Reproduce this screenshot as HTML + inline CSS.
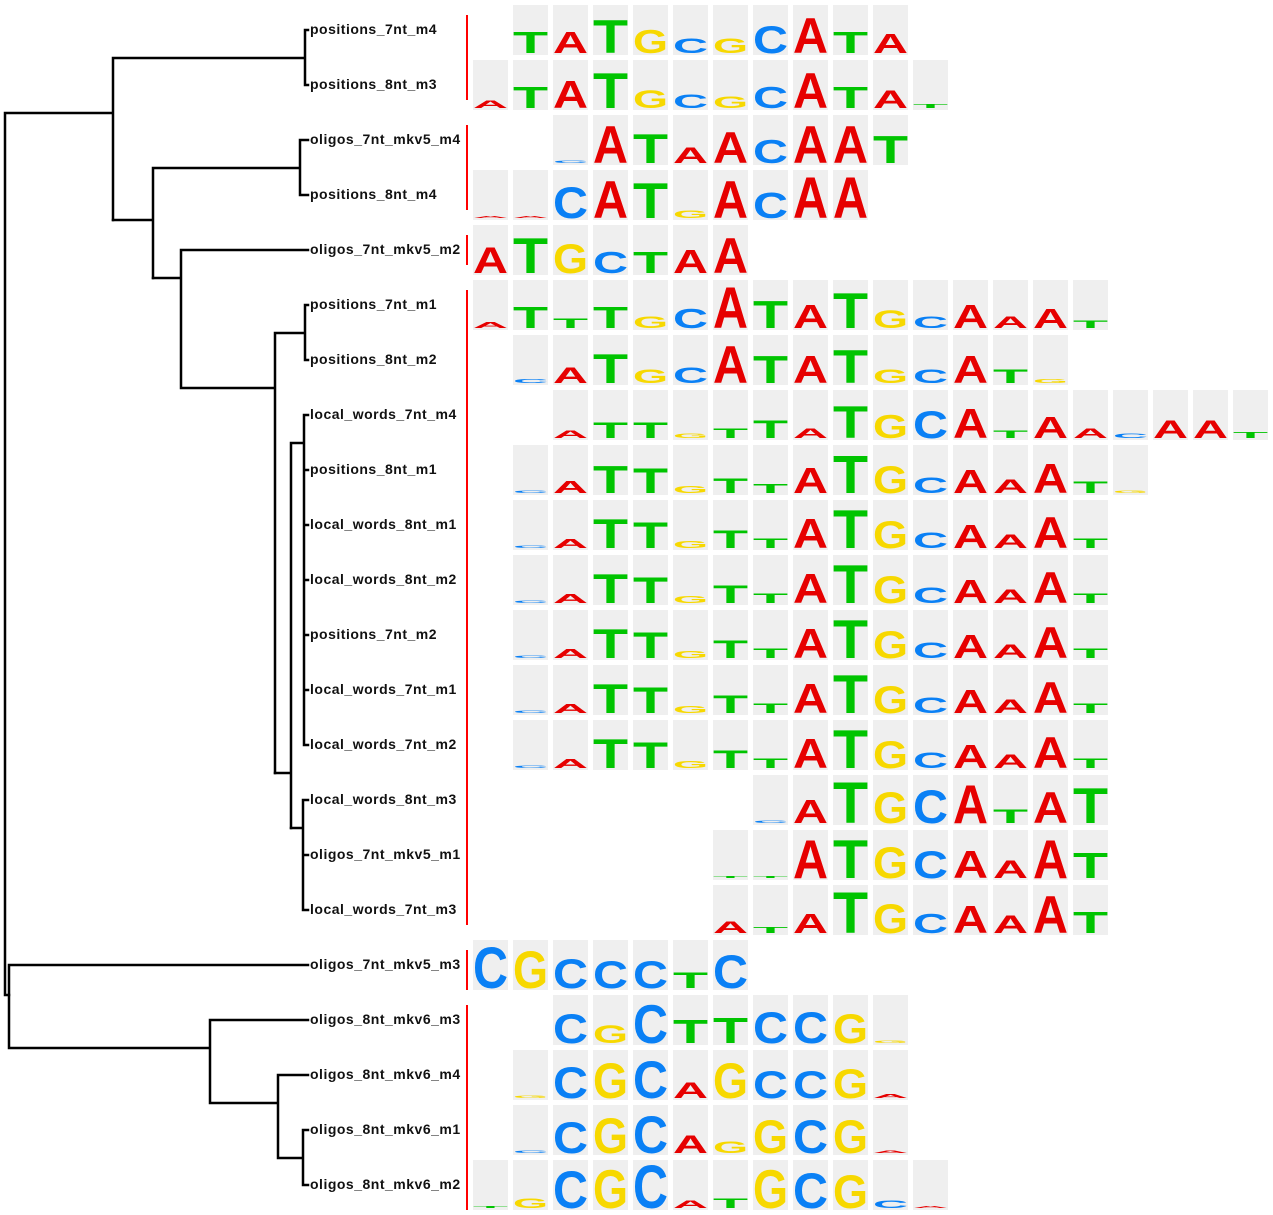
<!DOCTYPE html>
<html><head><meta charset="utf-8"><style>
html,body{margin:0;padding:0;background:#fff}
svg{display:block}
.lb{font-family:"Liberation Sans",sans-serif;font-weight:bold;font-size:14px;letter-spacing:0.5px;fill:#111}
.cl rect{fill:#efefef;width:35px;height:50px}
.cl text{font-family:"Liberation Sans",sans-serif;font-weight:bold;font-size:50px}
.a{fill:#e60000}.t{fill:#00c400}.c{fill:#0a80f5}.g{fill:#f7d800}
.tr{stroke:#000;stroke-width:2.5;fill:none;stroke-linecap:square}
</style></head><body>
<svg width="1273" height="1215" viewBox="0 0 1273 1215" xmlns="http://www.w3.org/2000/svg">
<g class="tr">
<path d="M5 113V995H9M5 113H113M113 58V220M113 58H305M305 30V85M305 30H308M305 85H308"/>
<path d="M113 220H153M153 168V278M153 168H300M300 140V195M300 140H308M300 195H308"/>
<path d="M153 278H181M181 250V388M181 250H308M181 388H275M275 333V773M275 333H305M305 305V360M305 305H308M305 360H308"/>
<path d="M275 773H291M291 443V828M291 443H304M304 415V745M304 415H308M304 470H308M304 525H308M304 580H308M304 635H308M304 690H308M304 745H308"/>
<path d="M291 828H303M303 800V910M303 800H308M303 855H308M303 910H308"/>
<path d="M9 965V1048M9 965H308M9 1048H210M210 1020V1103M210 1020H308M210 1103H278M278 1075V1158M278 1075H308M278 1158H303M303 1130V1185M303 1130H308M303 1185H308"/>
</g>
<g stroke="#f00" stroke-width="2"><path d="M467 15V100M467 125V210M467 235V265M467 290V925M467 950V990M467 1005V1210"/></g>
<g class="lb">
<text x="310" y="34">positions_7nt_m4</text>
<text x="310" y="89">positions_8nt_m3</text>
<text x="310" y="144">oligos_7nt_mkv5_m4</text>
<text x="310" y="199">positions_8nt_m4</text>
<text x="310" y="254">oligos_7nt_mkv5_m2</text>
<text x="310" y="309">positions_7nt_m1</text>
<text x="310" y="364">positions_8nt_m2</text>
<text x="310" y="419">local_words_7nt_m4</text>
<text x="310" y="474">positions_8nt_m1</text>
<text x="310" y="529">local_words_8nt_m1</text>
<text x="310" y="584">local_words_8nt_m2</text>
<text x="310" y="639">positions_7nt_m2</text>
<text x="310" y="694">local_words_7nt_m1</text>
<text x="310" y="749">local_words_7nt_m2</text>
<text x="310" y="804">local_words_8nt_m3</text>
<text x="310" y="859">oligos_7nt_mkv5_m1</text>
<text x="310" y="914">local_words_7nt_m3</text>
<text x="310" y="969">oligos_7nt_mkv5_m3</text>
<text x="310" y="1024">oligos_8nt_mkv6_m3</text>
<text x="310" y="1079">oligos_8nt_mkv6_m4</text>
<text x="310" y="1134">oligos_8nt_mkv6_m1</text>
<text x="310" y="1189">oligos_8nt_mkv6_m2</text>
</g>
<g class="cl">
<!-- R0 top5 -->
<g transform="translate(513,5)"><rect/><text class="t" transform="translate(0,48) scale(1,.61)" textLength="35" lengthAdjust="spacingAndGlyphs">T</text></g>
<g transform="translate(553,5)"><rect/><text class="a" transform="translate(0,48) scale(1,.61)" textLength="35" lengthAdjust="spacingAndGlyphs">A</text></g>
<g transform="translate(593,5)"><rect/><text class="t" transform="translate(0,48) scale(1,.94)" textLength="35" lengthAdjust="spacingAndGlyphs">T</text></g>
<g transform="translate(633,5)"><rect/><text class="g" transform="translate(0,48) scale(1,.67)" textLength="35" lengthAdjust="spacingAndGlyphs">G</text></g>
<g transform="translate(673,5)"><rect/><text class="c" transform="translate(0,48) scale(1,.42)" textLength="35" lengthAdjust="spacingAndGlyphs">C</text></g>
<g transform="translate(713,5)"><rect/><text class="g" transform="translate(0,48) scale(1,.42)" textLength="35" lengthAdjust="spacingAndGlyphs">G</text></g>
<g transform="translate(753,5)"><rect/><text class="c" transform="translate(0,48) scale(1,.78)" textLength="35" lengthAdjust="spacingAndGlyphs">C</text></g>
<g transform="translate(793,5)"><rect/><text class="a" transform="translate(0,48) scale(1,1)" textLength="35" lengthAdjust="spacingAndGlyphs">A</text></g>
<g transform="translate(833,5)"><rect/><text class="t" transform="translate(0,48) scale(1,.61)" textLength="35" lengthAdjust="spacingAndGlyphs">T</text></g>
<g transform="translate(873,5)"><rect/><text class="a" transform="translate(0,48) scale(1,.56)" textLength="35" lengthAdjust="spacingAndGlyphs">A</text></g>
<!-- R1 top60 -->
<g transform="translate(473,60)"><rect/><text class="a" transform="translate(0,48) scale(1,.22)" textLength="35" lengthAdjust="spacingAndGlyphs">A</text></g>
<g transform="translate(513,60)"><rect/><text class="t" transform="translate(0,48) scale(1,.61)" textLength="35" lengthAdjust="spacingAndGlyphs">T</text></g>
<g transform="translate(553,60)"><rect/><text class="a" transform="translate(0,48) scale(1,.78)" textLength="35" lengthAdjust="spacingAndGlyphs">A</text></g>
<g transform="translate(593,60)"><rect/><text class="t" transform="translate(0,48) scale(1,1)" textLength="35" lengthAdjust="spacingAndGlyphs">T</text></g>
<g transform="translate(633,60)"><rect/><text class="g" transform="translate(0,48) scale(1,.5)" textLength="35" lengthAdjust="spacingAndGlyphs">G</text></g>
<g transform="translate(673,60)"><rect/><text class="c" transform="translate(0,48) scale(1,.39)" textLength="35" lengthAdjust="spacingAndGlyphs">C</text></g>
<g transform="translate(713,60)"><rect/><text class="g" transform="translate(0,48) scale(1,.33)" textLength="35" lengthAdjust="spacingAndGlyphs">G</text></g>
<g transform="translate(753,60)"><rect/><text class="c" transform="translate(0,48) scale(1,.61)" textLength="35" lengthAdjust="spacingAndGlyphs">C</text></g>
<g transform="translate(793,60)"><rect/><text class="a" transform="translate(0,48) scale(1,1)" textLength="35" lengthAdjust="spacingAndGlyphs">A</text></g>
<g transform="translate(833,60)"><rect/><text class="t" transform="translate(0,48) scale(1,.61)" textLength="35" lengthAdjust="spacingAndGlyphs">T</text></g>
<g transform="translate(873,60)"><rect/><text class="a" transform="translate(0,48) scale(1,.5)" textLength="35" lengthAdjust="spacingAndGlyphs">A</text></g>
<g transform="translate(913,60)"><rect/><text class="t" transform="translate(0,48) scale(1,.11)" textLength="35" lengthAdjust="spacingAndGlyphs">T</text></g>
<!-- R2 top115 -->
<g transform="translate(553,115)"><rect/><text class="c" transform="translate(0,48) scale(1,.08)" textLength="35" lengthAdjust="spacingAndGlyphs">C</text></g>
<g transform="translate(593,115)"><rect/><text class="a" transform="translate(0,48) scale(1,1.05)" textLength="35" lengthAdjust="spacingAndGlyphs">A</text></g>
<g transform="translate(633,115)"><rect/><text class="t" transform="translate(0,48) scale(1,.83)" textLength="35" lengthAdjust="spacingAndGlyphs">T</text></g>
<g transform="translate(673,115)"><rect/><text class="a" transform="translate(0,48) scale(1,.44)" textLength="35" lengthAdjust="spacingAndGlyphs">A</text></g>
<g transform="translate(713,115)"><rect/><text class="a" transform="translate(0,48) scale(1,.89)" textLength="35" lengthAdjust="spacingAndGlyphs">A</text></g>
<g transform="translate(753,115)"><rect/><text class="c" transform="translate(0,48) scale(1,.67)" textLength="35" lengthAdjust="spacingAndGlyphs">C</text></g>
<g transform="translate(793,115)"><rect/><text class="a" transform="translate(0,48) scale(1,1.05)" textLength="35" lengthAdjust="spacingAndGlyphs">A</text></g>
<g transform="translate(833,115)"><rect/><text class="a" transform="translate(0,48) scale(1,1.05)" textLength="35" lengthAdjust="spacingAndGlyphs">A</text></g>
<g transform="translate(873,115)"><rect/><text class="t" transform="translate(0,48) scale(1,.78)" textLength="35" lengthAdjust="spacingAndGlyphs">T</text></g>
<!-- R3 top170 -->
<g transform="translate(473,170)"><rect/><text class="a" transform="translate(0,48) scale(1,.05)" textLength="35" lengthAdjust="spacingAndGlyphs">A</text></g>
<g transform="translate(513,170)"><rect/><text class="a" transform="translate(0,48) scale(1,.05)" textLength="35" lengthAdjust="spacingAndGlyphs">A</text></g>
<g transform="translate(553,170)"><rect/><text class="c" transform="translate(0,48) scale(1,.89)" textLength="35" lengthAdjust="spacingAndGlyphs">C</text></g>
<g transform="translate(593,170)"><rect/><text class="a" transform="translate(0,48) scale(1,1.05)" textLength="35" lengthAdjust="spacingAndGlyphs">A</text></g>
<g transform="translate(633,170)"><rect/><text class="t" transform="translate(0,48) scale(1,1)" textLength="35" lengthAdjust="spacingAndGlyphs">T</text></g>
<g transform="translate(673,170)"><rect/><text class="g" transform="translate(0,48) scale(1,.22)" textLength="35" lengthAdjust="spacingAndGlyphs">G</text></g>
<g transform="translate(713,170)"><rect/><text class="a" transform="translate(0,48) scale(1,1.05)" textLength="35" lengthAdjust="spacingAndGlyphs">A</text></g>
<g transform="translate(753,170)"><rect/><text class="c" transform="translate(0,48) scale(1,.72)" textLength="35" lengthAdjust="spacingAndGlyphs">C</text></g>
<g transform="translate(793,170)"><rect/><text class="a" transform="translate(0,48) scale(1,1.17)" textLength="35" lengthAdjust="spacingAndGlyphs">A</text></g>
<g transform="translate(833,170)"><rect/><text class="a" transform="translate(0,48) scale(1,1.17)" textLength="35" lengthAdjust="spacingAndGlyphs">A</text></g>
<!-- R4 top225 -->
<g transform="translate(473,225)"><rect/><text class="a" transform="translate(0,48) scale(1,.75)" textLength="35" lengthAdjust="spacingAndGlyphs">A</text></g>
<g transform="translate(513,225)"><rect/><text class="t" transform="translate(0,48) scale(1,1)" textLength="35" lengthAdjust="spacingAndGlyphs">T</text></g>
<g transform="translate(553,225)"><rect/><text class="g" transform="translate(0,48) scale(1,.83)" textLength="35" lengthAdjust="spacingAndGlyphs">G</text></g>
<g transform="translate(593,225)"><rect/><text class="c" transform="translate(0,48) scale(1,.61)" textLength="35" lengthAdjust="spacingAndGlyphs">C</text></g>
<g transform="translate(633,225)"><rect/><text class="t" transform="translate(0,48) scale(1,.61)" textLength="35" lengthAdjust="spacingAndGlyphs">T</text></g>
<g transform="translate(673,225)"><rect/><text class="a" transform="translate(0,48) scale(1,.67)" textLength="35" lengthAdjust="spacingAndGlyphs">A</text></g>
<g transform="translate(713,225)"><rect/><text class="a" transform="translate(0,48) scale(1,1)" textLength="35" lengthAdjust="spacingAndGlyphs">A</text></g>
<!-- R5 top280 -->
<g transform="translate(473,280)"><rect/><text class="a" transform="translate(0,48) scale(1,.17)" textLength="35" lengthAdjust="spacingAndGlyphs">A</text></g>
<g transform="translate(513,280)"><rect/><text class="t" transform="translate(0,48) scale(1,.61)" textLength="35" lengthAdjust="spacingAndGlyphs">T</text></g>
<g transform="translate(553,280)"><rect/><text class="t" transform="translate(0,48) scale(1,.28)" textLength="35" lengthAdjust="spacingAndGlyphs">T</text></g>
<g transform="translate(593,280)"><rect/><text class="t" transform="translate(0,48) scale(1,.61)" textLength="35" lengthAdjust="spacingAndGlyphs">T</text></g>
<g transform="translate(633,280)"><rect/><text class="g" transform="translate(0,48) scale(1,.33)" textLength="35" lengthAdjust="spacingAndGlyphs">G</text></g>
<g transform="translate(673,280)"><rect/><text class="c" transform="translate(0,48) scale(1,.56)" textLength="35" lengthAdjust="spacingAndGlyphs">C</text></g>
<g transform="translate(713,280)"><rect/><text class="a" transform="translate(0,48) scale(1,1.17)" textLength="35" lengthAdjust="spacingAndGlyphs">A</text></g>
<g transform="translate(753,280)"><rect/><text class="t" transform="translate(0,48) scale(1,.78)" textLength="35" lengthAdjust="spacingAndGlyphs">T</text></g>
<g transform="translate(793,280)"><rect/><text class="a" transform="translate(0,48) scale(1,.67)" textLength="35" lengthAdjust="spacingAndGlyphs">A</text></g>
<g transform="translate(833,280)"><rect/><text class="t" transform="translate(0,48) scale(1,1)" textLength="35" lengthAdjust="spacingAndGlyphs">T</text></g>
<g transform="translate(873,280)"><rect/><text class="g" transform="translate(0,48) scale(1,.5)" textLength="35" lengthAdjust="spacingAndGlyphs">G</text></g>
<g transform="translate(913,280)"><rect/><text class="c" transform="translate(0,48) scale(1,.33)" textLength="35" lengthAdjust="spacingAndGlyphs">C</text></g>
<g transform="translate(953,280)"><rect/><text class="a" transform="translate(0,48) scale(1,.67)" textLength="35" lengthAdjust="spacingAndGlyphs">A</text></g>
<g transform="translate(993,280)"><rect/><text class="a" transform="translate(0,48) scale(1,.33)" textLength="35" lengthAdjust="spacingAndGlyphs">A</text></g>
<g transform="translate(1033,280)"><rect/><text class="a" transform="translate(0,48) scale(1,.56)" textLength="35" lengthAdjust="spacingAndGlyphs">A</text></g>
<g transform="translate(1073,280)"><rect/><text class="t" transform="translate(0,48) scale(1,.22)" textLength="35" lengthAdjust="spacingAndGlyphs">T</text></g>
<!-- R6 top335 -->
<g transform="translate(513,335)"><rect/><text class="c" transform="translate(0,48) scale(1,.1)" textLength="35" lengthAdjust="spacingAndGlyphs">C</text></g>
<g transform="translate(553,335)"><rect/><text class="a" transform="translate(0,48) scale(1,.44)" textLength="35" lengthAdjust="spacingAndGlyphs">A</text></g>
<g transform="translate(593,335)"><rect/><text class="t" transform="translate(0,48) scale(1,.83)" textLength="35" lengthAdjust="spacingAndGlyphs">T</text></g>
<g transform="translate(633,335)"><rect/><text class="g" transform="translate(0,48) scale(1,.39)" textLength="35" lengthAdjust="spacingAndGlyphs">G</text></g>
<g transform="translate(673,335)"><rect/><text class="c" transform="translate(0,48) scale(1,.44)" textLength="35" lengthAdjust="spacingAndGlyphs">C</text></g>
<g transform="translate(713,335)"><rect/><text class="a" transform="translate(0,48) scale(1,1.05)" textLength="35" lengthAdjust="spacingAndGlyphs">A</text></g>
<g transform="translate(753,335)"><rect/><text class="t" transform="translate(0,48) scale(1,.78)" textLength="35" lengthAdjust="spacingAndGlyphs">T</text></g>
<g transform="translate(793,335)"><rect/><text class="a" transform="translate(0,48) scale(1,.78)" textLength="35" lengthAdjust="spacingAndGlyphs">A</text></g>
<g transform="translate(833,335)"><rect/><text class="t" transform="translate(0,48) scale(1,.94)" textLength="35" lengthAdjust="spacingAndGlyphs">T</text></g>
<g transform="translate(873,335)"><rect/><text class="g" transform="translate(0,48) scale(1,.39)" textLength="35" lengthAdjust="spacingAndGlyphs">G</text></g>
<g transform="translate(913,335)"><rect/><text class="c" transform="translate(0,48) scale(1,.39)" textLength="35" lengthAdjust="spacingAndGlyphs">C</text></g>
<g transform="translate(953,335)"><rect/><text class="a" transform="translate(0,48) scale(1,.78)" textLength="35" lengthAdjust="spacingAndGlyphs">A</text></g>
<g transform="translate(993,335)"><rect/><text class="t" transform="translate(0,48) scale(1,.39)" textLength="35" lengthAdjust="spacingAndGlyphs">T</text></g>
<g transform="translate(1033,335)"><rect/><text class="g" transform="translate(0,48) scale(1,.1)" textLength="35" lengthAdjust="spacingAndGlyphs">G</text></g>
<!-- R7 top390 -->
<g transform="translate(553,390)"><rect/><text class="a" transform="translate(0,48) scale(1,.22)" textLength="35" lengthAdjust="spacingAndGlyphs">A</text></g>
<g transform="translate(593,390)"><rect/><text class="t" transform="translate(0,48) scale(1,.44)" textLength="35" lengthAdjust="spacingAndGlyphs">T</text></g>
<g transform="translate(633,390)"><rect/><text class="t" transform="translate(0,48) scale(1,.44)" textLength="35" lengthAdjust="spacingAndGlyphs">T</text></g>
<g transform="translate(673,390)"><rect/><text class="g" transform="translate(0,48) scale(1,.13)" textLength="35" lengthAdjust="spacingAndGlyphs">G</text></g>
<g transform="translate(713,390)"><rect/><text class="t" transform="translate(0,48) scale(1,.28)" textLength="35" lengthAdjust="spacingAndGlyphs">T</text></g>
<g transform="translate(753,390)"><rect/><text class="t" transform="translate(0,48) scale(1,.5)" textLength="35" lengthAdjust="spacingAndGlyphs">T</text></g>
<g transform="translate(793,390)"><rect/><text class="a" transform="translate(0,48) scale(1,.28)" textLength="35" lengthAdjust="spacingAndGlyphs">A</text></g>
<g transform="translate(833,390)"><rect/><text class="t" transform="translate(0,48) scale(1,.9)" textLength="35" lengthAdjust="spacingAndGlyphs">T</text></g>
<g transform="translate(873,390)"><rect/><text class="g" transform="translate(0,48) scale(1,.67)" textLength="35" lengthAdjust="spacingAndGlyphs">G</text></g>
<g transform="translate(913,390)"><rect/><text class="c" transform="translate(0,48) scale(1,.78)" textLength="35" lengthAdjust="spacingAndGlyphs">C</text></g>
<g transform="translate(953,390)"><rect/><text class="a" transform="translate(0,48) scale(1,.83)" textLength="35" lengthAdjust="spacingAndGlyphs">A</text></g>
<g transform="translate(993,390)"><rect/><text class="t" transform="translate(0,48) scale(1,.22)" textLength="35" lengthAdjust="spacingAndGlyphs">T</text></g>
<g transform="translate(1033,390)"><rect/><text class="a" transform="translate(0,48) scale(1,.61)" textLength="35" lengthAdjust="spacingAndGlyphs">A</text></g>
<g transform="translate(1073,390)"><rect/><text class="a" transform="translate(0,48) scale(1,.28)" textLength="35" lengthAdjust="spacingAndGlyphs">A</text></g>
<g transform="translate(1113,390)"><rect/><text class="c" transform="translate(0,48) scale(1,.12)" textLength="35" lengthAdjust="spacingAndGlyphs">C</text></g>
<g transform="translate(1153,390)"><rect/><text class="a" transform="translate(0,48) scale(1,.5)" textLength="35" lengthAdjust="spacingAndGlyphs">A</text></g>
<g transform="translate(1193,390)"><rect/><text class="a" transform="translate(0,48) scale(1,.5)" textLength="35" lengthAdjust="spacingAndGlyphs">A</text></g>
<g transform="translate(1233,390)"><rect/><text class="t" transform="translate(0,48) scale(1,.17)" textLength="35" lengthAdjust="spacingAndGlyphs">T</text></g>
<!-- R8 top445 -->
<g transform="translate(513,445)"><rect/><text class="c" transform="translate(0,48) scale(1,.08)" textLength="35" lengthAdjust="spacingAndGlyphs">C</text></g>
<g transform="translate(553,445)"><rect/><text class="a" transform="translate(0,48) scale(1,.36)" textLength="35" lengthAdjust="spacingAndGlyphs">A</text></g>
<g transform="translate(593,445)"><rect/><text class="t" transform="translate(0,48) scale(1,.78)" textLength="35" lengthAdjust="spacingAndGlyphs">T</text></g>
<g transform="translate(633,445)"><rect/><text class="t" transform="translate(0,48) scale(1,.7)" textLength="35" lengthAdjust="spacingAndGlyphs">T</text></g>
<g transform="translate(673,445)"><rect/><text class="g" transform="translate(0,48) scale(1,.2)" textLength="35" lengthAdjust="spacingAndGlyphs">G</text></g>
<g transform="translate(713,445)"><rect/><text class="t" transform="translate(0,48) scale(1,.42)" textLength="35" lengthAdjust="spacingAndGlyphs">T</text></g>
<g transform="translate(753,445)"><rect/><text class="t" transform="translate(0,48) scale(1,.25)" textLength="35" lengthAdjust="spacingAndGlyphs">T</text></g>
<g transform="translate(793,445)"><rect/><text class="a" transform="translate(0,48) scale(1,.72)" textLength="35" lengthAdjust="spacingAndGlyphs">A</text></g>
<g transform="translate(833,445)"><rect/><text class="t" transform="translate(0,48) scale(1,1.08)" textLength="35" lengthAdjust="spacingAndGlyphs">T</text></g>
<g transform="translate(873,445)"><rect/><text class="g" transform="translate(0,48) scale(1,.78)" textLength="35" lengthAdjust="spacingAndGlyphs">G</text></g>
<g transform="translate(913,445)"><rect/><text class="c" transform="translate(0,48) scale(1,.44)" textLength="35" lengthAdjust="spacingAndGlyphs">C</text></g>
<g transform="translate(953,445)"><rect/><text class="a" transform="translate(0,48) scale(1,.67)" textLength="35" lengthAdjust="spacingAndGlyphs">A</text></g>
<g transform="translate(993,445)"><rect/><text class="a" transform="translate(0,48) scale(1,.39)" textLength="35" lengthAdjust="spacingAndGlyphs">A</text></g>
<g transform="translate(1033,445)"><rect/><text class="a" transform="translate(0,48) scale(1,.83)" textLength="35" lengthAdjust="spacingAndGlyphs">A</text></g>
<g transform="translate(1073,445)"><rect/><text class="t" transform="translate(0,48) scale(1,.33)" textLength="35" lengthAdjust="spacingAndGlyphs">T</text></g>
<g transform="translate(1113,445)"><rect/><text class="g" transform="translate(0,48) scale(1,.08)" textLength="35" lengthAdjust="spacingAndGlyphs">G</text></g>
</g>
<defs>
<g id="std" class="cl">
<g transform="translate(40,0)"><rect/><text class="c" transform="translate(0,48) scale(1,.08)" textLength="35" lengthAdjust="spacingAndGlyphs">C</text></g>
<g transform="translate(80,0)"><rect/><text class="a" transform="translate(0,48) scale(1,.25)" textLength="35" lengthAdjust="spacingAndGlyphs">A</text></g>
<g transform="translate(120,0)"><rect/><text class="t" transform="translate(0,48) scale(1,.83)" textLength="35" lengthAdjust="spacingAndGlyphs">T</text></g>
<g transform="translate(160,0)"><rect/><text class="t" transform="translate(0,48) scale(1,.75)" textLength="35" lengthAdjust="spacingAndGlyphs">T</text></g>
<g transform="translate(200,0)"><rect/><text class="g" transform="translate(0,48) scale(1,.2)" textLength="35" lengthAdjust="spacingAndGlyphs">G</text></g>
<g transform="translate(240,0)"><rect/><text class="t" transform="translate(0,48) scale(1,.5)" textLength="35" lengthAdjust="spacingAndGlyphs">T</text></g>
<g transform="translate(280,0)"><rect/><text class="t" transform="translate(0,48) scale(1,.28)" textLength="35" lengthAdjust="spacingAndGlyphs">T</text></g>
<g transform="translate(320,0)"><rect/><text class="a" transform="translate(0,48) scale(1,.83)" textLength="35" lengthAdjust="spacingAndGlyphs">A</text></g>
<g transform="translate(360,0)"><rect/><text class="t" transform="translate(0,48) scale(1,1.1)" textLength="35" lengthAdjust="spacingAndGlyphs">T</text></g>
<g transform="translate(400,0)"><rect/><text class="g" transform="translate(0,48) scale(1,.78)" textLength="35" lengthAdjust="spacingAndGlyphs">G</text></g>
<g transform="translate(440,0)"><rect/><text class="c" transform="translate(0,48) scale(1,.44)" textLength="35" lengthAdjust="spacingAndGlyphs">C</text></g>
<g transform="translate(480,0)"><rect/><text class="a" transform="translate(0,48) scale(1,.67)" textLength="35" lengthAdjust="spacingAndGlyphs">A</text></g>
<g transform="translate(520,0)"><rect/><text class="a" transform="translate(0,48) scale(1,.39)" textLength="35" lengthAdjust="spacingAndGlyphs">A</text></g>
<g transform="translate(560,0)"><rect/><text class="a" transform="translate(0,48) scale(1,.89)" textLength="35" lengthAdjust="spacingAndGlyphs">A</text></g>
<g transform="translate(600,0)"><rect/><text class="t" transform="translate(0,48) scale(1,.28)" textLength="35" lengthAdjust="spacingAndGlyphs">T</text></g>
</g>
</defs>
<use href="#std" x="473" y="500"/>
<use href="#std" x="473" y="555"/>
<use href="#std" x="473" y="610"/>
<use href="#std" x="473" y="665"/>
<use href="#std" x="473" y="720"/>
<g class="cl">
<!-- R14 top775 c7 -->
<g transform="translate(753,775)"><rect/><text class="c" transform="translate(0,48) scale(1,.08)" textLength="35" lengthAdjust="spacingAndGlyphs">C</text></g>
<g transform="translate(793,775)"><rect/><text class="a" transform="translate(0,48) scale(1,.67)" textLength="35" lengthAdjust="spacingAndGlyphs">A</text></g>
<g transform="translate(833,775)"><rect/><text class="t" transform="translate(0,48) scale(1,1.17)" textLength="35" lengthAdjust="spacingAndGlyphs">T</text></g>
<g transform="translate(873,775)"><rect/><text class="g" transform="translate(0,48) scale(1,.89)" textLength="35" lengthAdjust="spacingAndGlyphs">G</text></g>
<g transform="translate(913,775)"><rect/><text class="c" transform="translate(0,48) scale(1,.94)" textLength="35" lengthAdjust="spacingAndGlyphs">C</text></g>
<g transform="translate(953,775)"><rect/><text class="a" transform="translate(0,48) scale(1,1.1)" textLength="35" lengthAdjust="spacingAndGlyphs">A</text></g>
<g transform="translate(993,775)"><rect/><text class="t" transform="translate(0,48) scale(1,.39)" textLength="35" lengthAdjust="spacingAndGlyphs">T</text></g>
<g transform="translate(1033,775)"><rect/><text class="a" transform="translate(0,48) scale(1,.89)" textLength="35" lengthAdjust="spacingAndGlyphs">A</text></g>
<g transform="translate(1073,775)"><rect/><text class="t" transform="translate(0,48) scale(1,1)" textLength="35" lengthAdjust="spacingAndGlyphs">T</text></g>
<!-- R15 top830 c6 -->
<g transform="translate(713,830)"><rect/><text class="t" transform="translate(0,48) scale(1,.06)" textLength="35" lengthAdjust="spacingAndGlyphs">T</text></g>
<g transform="translate(753,830)"><rect/><text class="t" transform="translate(0,48) scale(1,.06)" textLength="35" lengthAdjust="spacingAndGlyphs">T</text></g>
<g transform="translate(793,830)"><rect/><text class="a" transform="translate(0,48) scale(1,1.1)" textLength="35" lengthAdjust="spacingAndGlyphs">A</text></g>
<g transform="translate(833,830)"><rect/><text class="t" transform="translate(0,48) scale(1,1.1)" textLength="35" lengthAdjust="spacingAndGlyphs">T</text></g>
<g transform="translate(873,830)"><rect/><text class="g" transform="translate(0,48) scale(1,.89)" textLength="35" lengthAdjust="spacingAndGlyphs">G</text></g>
<g transform="translate(913,830)"><rect/><text class="c" transform="translate(0,48) scale(1,.78)" textLength="35" lengthAdjust="spacingAndGlyphs">C</text></g>
<g transform="translate(953,830)"><rect/><text class="a" transform="translate(0,48) scale(1,.78)" textLength="35" lengthAdjust="spacingAndGlyphs">A</text></g>
<g transform="translate(993,830)"><rect/><text class="a" transform="translate(0,48) scale(1,.5)" textLength="35" lengthAdjust="spacingAndGlyphs">A</text></g>
<g transform="translate(1033,830)"><rect/><text class="a" transform="translate(0,48) scale(1,1.1)" textLength="35" lengthAdjust="spacingAndGlyphs">A</text></g>
<g transform="translate(1073,830)"><rect/><text class="t" transform="translate(0,48) scale(1,.72)" textLength="35" lengthAdjust="spacingAndGlyphs">T</text></g>
<!-- R16 top885 c6 -->
<g transform="translate(713,885)"><rect/><text class="a" transform="translate(0,48) scale(1,.33)" textLength="35" lengthAdjust="spacingAndGlyphs">A</text></g>
<g transform="translate(753,885)"><rect/><text class="t" transform="translate(0,48) scale(1,.17)" textLength="35" lengthAdjust="spacingAndGlyphs">T</text></g>
<g transform="translate(793,885)"><rect/><text class="a" transform="translate(0,48) scale(1,.56)" textLength="35" lengthAdjust="spacingAndGlyphs">A</text></g>
<g transform="translate(833,885)"><rect/><text class="t" transform="translate(0,48) scale(1,1.17)" textLength="35" lengthAdjust="spacingAndGlyphs">T</text></g>
<g transform="translate(873,885)"><rect/><text class="g" transform="translate(0,48) scale(1,.83)" textLength="35" lengthAdjust="spacingAndGlyphs">G</text></g>
<g transform="translate(913,885)"><rect/><text class="c" transform="translate(0,48) scale(1,.56)" textLength="35" lengthAdjust="spacingAndGlyphs">C</text></g>
<g transform="translate(953,885)"><rect/><text class="a" transform="translate(0,48) scale(1,.78)" textLength="35" lengthAdjust="spacingAndGlyphs">A</text></g>
<g transform="translate(993,885)"><rect/><text class="a" transform="translate(0,48) scale(1,.5)" textLength="35" lengthAdjust="spacingAndGlyphs">A</text></g>
<g transform="translate(1033,885)"><rect/><text class="a" transform="translate(0,48) scale(1,1.05)" textLength="35" lengthAdjust="spacingAndGlyphs">A</text></g>
<g transform="translate(1073,885)"><rect/><text class="t" transform="translate(0,48) scale(1,.61)" textLength="35" lengthAdjust="spacingAndGlyphs">T</text></g>
<!-- R17 top940 c0 -->
<g transform="translate(473,940)"><rect/><text class="c" transform="translate(0,48) scale(1,1.17)" textLength="35" lengthAdjust="spacingAndGlyphs">C</text></g>
<g transform="translate(513,940)"><rect/><text class="g" transform="translate(0,48) scale(1,1.05)" textLength="35" lengthAdjust="spacingAndGlyphs">G</text></g>
<g transform="translate(553,940)"><rect/><text class="c" transform="translate(0,48) scale(1,.83)" textLength="35" lengthAdjust="spacingAndGlyphs">C</text></g>
<g transform="translate(593,940)"><rect/><text class="c" transform="translate(0,48) scale(1,.78)" textLength="35" lengthAdjust="spacingAndGlyphs">C</text></g>
<g transform="translate(633,940)"><rect/><text class="c" transform="translate(0,48) scale(1,.78)" textLength="35" lengthAdjust="spacingAndGlyphs">C</text></g>
<g transform="translate(673,940)"><rect/><text class="t" transform="translate(0,48) scale(1,.44)" textLength="35" lengthAdjust="spacingAndGlyphs">T</text></g>
<g transform="translate(713,940)"><rect/><text class="c" transform="translate(0,48) scale(1,.94)" textLength="35" lengthAdjust="spacingAndGlyphs">C</text></g>
<!-- R18 top995 c2 -->
<g transform="translate(553,995)"><rect/><text class="c" transform="translate(0,48) scale(1,.83)" textLength="35" lengthAdjust="spacingAndGlyphs">C</text></g>
<g transform="translate(593,995)"><rect/><text class="g" transform="translate(0,48) scale(1,.5)" textLength="35" lengthAdjust="spacingAndGlyphs">G</text></g>
<g transform="translate(633,995)"><rect/><text class="c" transform="translate(0,48) scale(1,1.1)" textLength="35" lengthAdjust="spacingAndGlyphs">C</text></g>
<g transform="translate(673,995)"><rect/><text class="t" transform="translate(0,48) scale(1,.67)" textLength="35" lengthAdjust="spacingAndGlyphs">T</text></g>
<g transform="translate(713,995)"><rect/><text class="t" transform="translate(0,48) scale(1,.72)" textLength="35" lengthAdjust="spacingAndGlyphs">T</text></g>
<g transform="translate(753,995)"><rect/><text class="c" transform="translate(0,48) scale(1,.89)" textLength="35" lengthAdjust="spacingAndGlyphs">C</text></g>
<g transform="translate(793,995)"><rect/><text class="c" transform="translate(0,48) scale(1,.89)" textLength="35" lengthAdjust="spacingAndGlyphs">C</text></g>
<g transform="translate(833,995)"><rect/><text class="g" transform="translate(0,48) scale(1,.83)" textLength="35" lengthAdjust="spacingAndGlyphs">G</text></g>
<g transform="translate(873,995)"><rect/><text class="g" transform="translate(0,48) scale(1,.08)" textLength="35" lengthAdjust="spacingAndGlyphs">G</text></g>
<!-- R19 top1050 c1 -->
<g transform="translate(513,1050)"><rect/><text class="g" transform="translate(0,48) scale(1,.08)" textLength="35" lengthAdjust="spacingAndGlyphs">G</text></g>
<g transform="translate(553,1050)"><rect/><text class="c" transform="translate(0,48) scale(1,.89)" textLength="35" lengthAdjust="spacingAndGlyphs">C</text></g>
<g transform="translate(593,1050)"><rect/><text class="g" transform="translate(0,48) scale(1,1)" textLength="35" lengthAdjust="spacingAndGlyphs">G</text></g>
<g transform="translate(633,1050)"><rect/><text class="c" transform="translate(0,48) scale(1,1.05)" textLength="35" lengthAdjust="spacingAndGlyphs">C</text></g>
<g transform="translate(673,1050)"><rect/><text class="a" transform="translate(0,48) scale(1,.44)" textLength="35" lengthAdjust="spacingAndGlyphs">A</text></g>
<g transform="translate(713,1050)"><rect/><text class="g" transform="translate(0,48) scale(1,1)" textLength="35" lengthAdjust="spacingAndGlyphs">G</text></g>
<g transform="translate(753,1050)"><rect/><text class="c" transform="translate(0,48) scale(1,.78)" textLength="35" lengthAdjust="spacingAndGlyphs">C</text></g>
<g transform="translate(793,1050)"><rect/><text class="c" transform="translate(0,48) scale(1,.78)" textLength="35" lengthAdjust="spacingAndGlyphs">C</text></g>
<g transform="translate(833,1050)"><rect/><text class="g" transform="translate(0,48) scale(1,.83)" textLength="35" lengthAdjust="spacingAndGlyphs">G</text></g>
<g transform="translate(873,1050)"><rect/><text class="a" transform="translate(0,48) scale(1,.1)" textLength="35" lengthAdjust="spacingAndGlyphs">A</text></g>
<!-- R20 top1105 c1 -->
<g transform="translate(513,1105)"><rect/><text class="c" transform="translate(0,48) scale(1,.08)" textLength="35" lengthAdjust="spacingAndGlyphs">C</text></g>
<g transform="translate(553,1105)"><rect/><text class="c" transform="translate(0,48) scale(1,.89)" textLength="35" lengthAdjust="spacingAndGlyphs">C</text></g>
<g transform="translate(593,1105)"><rect/><text class="g" transform="translate(0,48) scale(1,1)" textLength="35" lengthAdjust="spacingAndGlyphs">G</text></g>
<g transform="translate(633,1105)"><rect/><text class="c" transform="translate(0,48) scale(1,1.05)" textLength="35" lengthAdjust="spacingAndGlyphs">C</text></g>
<g transform="translate(673,1105)"><rect/><text class="a" transform="translate(0,48) scale(1,.5)" textLength="35" lengthAdjust="spacingAndGlyphs">A</text></g>
<g transform="translate(713,1105)"><rect/><text class="g" transform="translate(0,48) scale(1,.33)" textLength="35" lengthAdjust="spacingAndGlyphs">G</text></g>
<g transform="translate(753,1105)"><rect/><text class="g" transform="translate(0,48) scale(1,.94)" textLength="35" lengthAdjust="spacingAndGlyphs">G</text></g>
<g transform="translate(793,1105)"><rect/><text class="c" transform="translate(0,48) scale(1,.94)" textLength="35" lengthAdjust="spacingAndGlyphs">C</text></g>
<g transform="translate(833,1105)"><rect/><text class="g" transform="translate(0,48) scale(1,.94)" textLength="35" lengthAdjust="spacingAndGlyphs">G</text></g>
<g transform="translate(873,1105)"><rect/><text class="a" transform="translate(0,48) scale(1,.08)" textLength="35" lengthAdjust="spacingAndGlyphs">A</text></g>
<!-- R21 top1160 c0 -->
<g transform="translate(473,1160)"><rect/><text class="t" transform="translate(0,48) scale(1,.06)" textLength="35" lengthAdjust="spacingAndGlyphs">T</text></g>
<g transform="translate(513,1160)"><rect/><text class="g" transform="translate(0,48) scale(1,.28)" textLength="35" lengthAdjust="spacingAndGlyphs">G</text></g>
<g transform="translate(553,1160)"><rect/><text class="c" transform="translate(0,48) scale(1,1.05)" textLength="35" lengthAdjust="spacingAndGlyphs">C</text></g>
<g transform="translate(593,1160)"><rect/><text class="g" transform="translate(0,48) scale(1,1.1)" textLength="35" lengthAdjust="spacingAndGlyphs">G</text></g>
<g transform="translate(633,1160)"><rect/><text class="c" transform="translate(0,48) scale(1,1.22)" textLength="35" lengthAdjust="spacingAndGlyphs">C</text></g>
<g transform="translate(673,1160)"><rect/><text class="a" transform="translate(0,48) scale(1,.22)" textLength="35" lengthAdjust="spacingAndGlyphs">A</text></g>
<g transform="translate(713,1160)"><rect/><text class="t" transform="translate(0,48) scale(1,.28)" textLength="35" lengthAdjust="spacingAndGlyphs">T</text></g>
<g transform="translate(753,1160)"><rect/><text class="g" transform="translate(0,48) scale(1,1.1)" textLength="35" lengthAdjust="spacingAndGlyphs">G</text></g>
<g transform="translate(793,1160)"><rect/><text class="c" transform="translate(0,48) scale(1,1)" textLength="35" lengthAdjust="spacingAndGlyphs">C</text></g>
<g transform="translate(833,1160)"><rect/><text class="g" transform="translate(0,48) scale(1,.94)" textLength="35" lengthAdjust="spacingAndGlyphs">G</text></g>
<g transform="translate(873,1160)"><rect/><text class="c" transform="translate(0,48) scale(1,.22)" textLength="35" lengthAdjust="spacingAndGlyphs">C</text></g>
<g transform="translate(913,1160)"><rect/><text class="a" transform="translate(0,48) scale(1,.06)" textLength="35" lengthAdjust="spacingAndGlyphs">A</text></g>
</g>
</svg>
</body></html>
